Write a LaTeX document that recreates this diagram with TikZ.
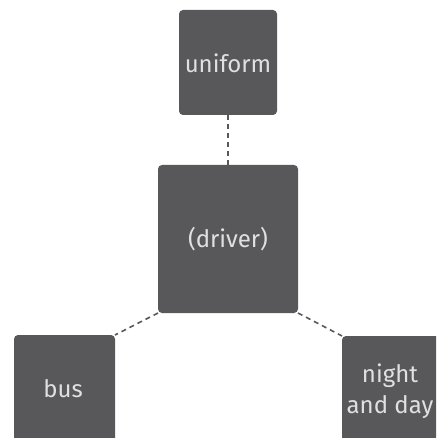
\documentclass[tikz,border=0pt]{standalone}
\usepackage{fontspec}
\setmainfont{Fira Sans}
\definecolor{boxgray}{HTML}{58585A}
\definecolor{txtgray}{HTML}{E0E0E0}
\begin{document}
\begin{tikzpicture}[x=1pt,y=-1pt,
  box/.style={fill=boxgray,rounded corners=4pt},
  lbl/.style={text=txtgray,font=\fontsize{24}{31}\selectfont,align=center,inner sep=0pt},
  link/.style={draw=boxgray,line width=1.6pt,dash pattern=on 5pt off 4pt}]
\useasboundingbox (0,0) rectangle (436,438);
\clip (0,0) rectangle (436,438);
\path[box] (179,10) rectangle (277,115);
\node[lbl] (uniform) at (228,63) {uniform};
\coordinate (uB) at (228,115);
\path[box] (158,165) rectangle (298,313);
\node[lbl] (driver) at (228,239) {(driver)};
\coordinate (dT) at (228,165);
\coordinate (dBL) at (158,313);
\coordinate (dBR) at (298,313);
\path[box] (14,335) rectangle (115,460);
\node[lbl] (bus) at (63,389) {bus};
\coordinate (bTR) at (115,335);
\path[box] (342,336) rectangle (450,460);
\node[lbl] (night) at (390,391) {night\\and day};
\coordinate (nTL) at (342,336);
\draw[link] (uB) -- (dT);
\draw[link] (dBL) -- (bTR);
\draw[link] (dBR) -- (nTL);
\end{tikzpicture}
\end{document}
